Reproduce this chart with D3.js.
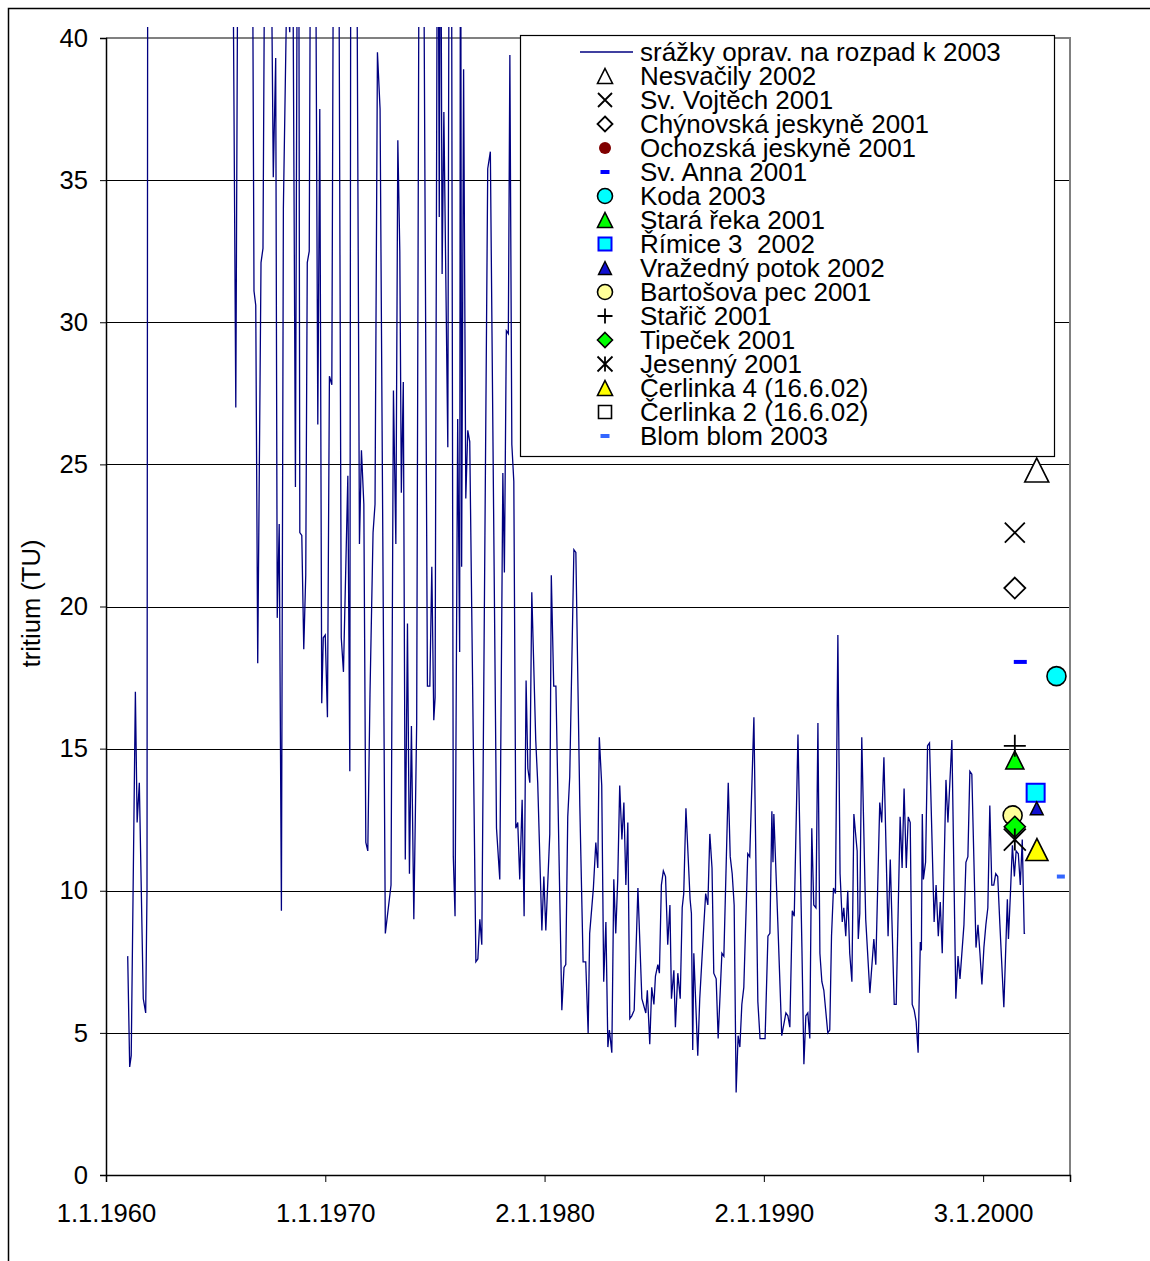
<!DOCTYPE html>
<html>
<head>
<meta charset="utf-8">
<script src="https://cdn.jsdelivr.net/npm/d3@7"></script>
<style>
  body { margin: 0; background: #fff; }
  svg { display: block; }
  text { font-family: "Liberation Sans", Arial, sans-serif; fill: #000; white-space: pre; }
</style>
</head>
<body>
<svg id="chart" width="1150" height="1261"></svg>
<script>
// Tritium in precipitation, decay-corrected to 2003: [decimal year, TU]
const precip1961_1969 = [
  [1960.99,7.7],[1961.08,3.8],[1961.15,4.2],[1961.34,17.0],[1961.42,12.4],[1961.52,13.8],[1961.70,6.2],
  [1961.81,5.7],[1961.87,10.0],[1961.95,95],[1962.3,160],[1962.8,240],[1963.3,420],[1963.8,900],
  [1964.3,650],[1964.8,380],[1965.3,200],[1965.70,55],[1965.92,27.0],[1966.10,60],[1966.40,70],
  [1966.65,50],[1966.75,31.1],[1966.83,30.6],[1966.92,18.0],[1967.07,32.1],[1967.16,32.6],[1967.35,60],
  [1967.63,35.1],[1967.74,39.3],[1967.81,19.6],[1967.90,22.9],[1968.00,9.3],[1968.09,34.0],[1968.25,42],
  [1968.38,40.2],[1968.48,50],[1968.64,24.2],[1968.77,55],[1968.84,22.6],[1968.93,22.5],[1969.02,18.5],
  [1969.11,21.1],[1969.18,32.1],[1969.27,32.5],[1969.40,60],[1969.50,55],[1969.66,26.4],[1969.75,37.5],
  [1969.84,16.6],[1969.91,18.9]
];
const precip1970_1979 = [
  [1970.00,19.0],[1970.10,16.1],[1970.19,28.1],[1970.30,27.8],[1970.42,55],[1970.55,60],[1970.73,18.9],
  [1970.83,17.7],[1971.03,24.6],[1971.12,14.2],[1971.20,70],[1971.35,60],[1971.56,22.2],[1971.65,25.5],
  [1971.76,23.6],[1971.85,11.7],[1971.94,11.4],[1972.04,16.9],[1972.18,22.6],[1972.27,23.6],[1972.38,39.5],
  [1972.50,37.5],[1972.74,8.5],[1973.00,10.2],[1973.11,27.6],[1973.22,22.2],[1973.31,36.4],[1973.40,32.5],
  [1973.47,24.0],[1973.56,27.9],[1973.65,11.1],[1973.75,19.4],[1973.84,10.6],[1973.93,15.8],[1974.04,9.0],
  [1974.17,15.9],[1974.32,55],[1974.45,50],[1974.66,17.2],[1974.77,17.2],[1974.86,21.4],[1974.95,16.0],
  [1975.01,16.8],[1975.13,50],[1975.20,33.7],[1975.26,48],[1975.33,31.7],[1975.41,37.4],[1975.59,25.6],
  [1975.68,55],[1975.75,48],[1975.84,11.2],[1975.92,9.1],[1976.04,26.6],[1976.13,18.4],[1976.17,50],
  [1976.22,21.4],[1976.31,38.9],[1976.41,23.8],[1976.50,26.2],[1976.59,25.8],[1976.87,7.5],[1976.96,7.6],
  [1977.05,9.0],[1977.14,8.1],[1977.41,35.4],[1977.53,36.0],[1977.81,12.2],[1977.96,10.4],[1978.10,24.7],
  [1978.17,21.2],[1978.26,29.7],[1978.35,29.6],[1978.42,39.4],[1978.51,25.7],[1978.60,24.4],[1978.69,12.2],
  [1978.78,12.4],[1978.87,10.4],[1978.98,13.2],[1979.07,9.1],[1979.16,17.4],[1979.24,14.3],[1979.33,13.8],
  [1979.42,20.5],[1979.60,15.3],[1979.69,13.8],[1979.88,8.6],[1979.97,10.5]
];
const precip1980_1989 = [
  [1980.06,8.6],[1980.24,12.0],[1980.31,21.1],[1980.42,17.2],[1980.52,17.2],[1980.79,5.8],[1980.89,7.3],
  [1980.97,7.4],[1981.06,12.6],[1981.15,14.0],[1981.34,22.0],[1981.43,21.9],[1981.61,13.0],[1981.76,7.5],
  [1981.88,7.5],[1981.99,5.0],[1982.06,8.5],[1982.23,10.1],[1982.34,11.7],[1982.43,10.8],[1982.50,15.4],
  [1982.61,13.7],[1982.70,6.8],[1982.80,8.9],[1982.89,4.5],[1982.96,5.1],[1983.07,4.3],[1983.16,10.4],
  [1983.25,8.5],[1983.34,10.4],[1983.43,13.7],[1983.53,11.8],[1983.62,13.1],[1983.71,10.2],[1983.80,12.4],
  [1983.89,5.5],[1983.98,5.6],[1984.09,5.8],[1984.26,10.1],[1984.44,6.2],[1984.62,5.7],[1984.69,6.5],
  [1984.80,4.6],[1984.89,6.6],[1984.99,6.0],[1985.06,7.0],[1985.17,7.4],[1985.24,7.1],[1985.33,10.2],
  [1985.42,10.7],[1985.52,10.5],[1985.62,8.1],[1985.72,9.5],[1985.79,6.2],[1985.90,7.2],[1985.97,5.2],
  [1986.08,7.1],[1986.19,6.2],[1986.28,9.4],[1986.35,9.9],[1986.45,12.9],[1986.64,9.7],[1986.70,9.2],
  [1986.76,4.4],[1986.81,7.8],[1986.99,4.2],[1987.08,6.2],[1987.26,8.7],[1987.35,9.9],[1987.45,9.5],
  [1987.54,12.0],[1987.64,10.8],[1987.72,7.1],[1987.83,6.9],[1987.92,4.8],[1988.09,7.8],[1988.18,7.7],
  [1988.38,13.8],[1988.47,11.2],[1988.56,10.6],[1988.65,9.5],[1988.74,2.9],[1988.83,4.9],[1988.91,4.5],
  [1989.00,6.0],[1989.09,6.6],[1989.27,11.3],[1989.36,11.2],[1989.55,16.1],[1989.73,6.1],[1989.83,4.8],
  [1989.94,4.8]
];
const precip1990_2001 = [
  [1990.06,4.8],[1990.19,8.4],[1990.28,8.5],[1990.37,12.8],[1990.42,11.0],[1990.46,12.7],[1990.64,8.9],
  [1990.82,4.9],[1991.01,5.7],[1991.10,5.6],[1991.19,5.2],[1991.30,9.3],[1991.39,9.1],[1991.56,15.5],
  [1991.74,8.0],[1991.83,3.9],[1991.92,5.6],[1992.01,5.7],[1992.10,4.8],[1992.19,12.2],[1992.28,9.5],
  [1992.38,9.4],[1992.47,15.9],[1992.56,7.8],[1992.65,6.8],[1992.74,6.5],[1992.92,5.0],[1993.01,5.1],
  [1993.09,8.4],[1993.18,10.1],[1993.27,9.9],[1993.38,19.0],[1993.48,10.6],[1993.58,8.9],[1993.65,9.4],
  [1993.74,8.4],[1993.83,10.0],[1993.92,7.8],[1994.02,6.8],[1994.11,12.7],[1994.20,11.9],[1994.26,11.4],
  [1994.31,8.3],[1994.38,9.2],[1994.47,15.4],[1994.65,9.0],[1994.84,6.4],[1995.02,8.3],[1995.11,7.4],
  [1995.29,13.1],[1995.38,12.4],[1995.48,14.7],[1995.67,8.4],[1995.77,11.1],[1995.95,6.0],[1996.04,6.0],
  [1996.22,12.6],[1996.31,10.8],[1996.40,13.6],[1996.50,10.8],[1996.59,12.6],[1996.68,12.4],[1996.77,6.0],
  [1996.86,5.8],[1996.95,5.4],[1997.04,4.3],[1997.14,8.2],[1997.19,7.9],[1997.23,12.7],[1997.28,10.4],
  [1997.38,11.0],[1997.47,15.1],[1997.56,15.2],[1997.77,8.9],[1997.86,10.2],[1997.96,8.4],[1998.05,9.6],
  [1998.14,7.8],[1998.31,13.9],[1998.40,12.4],[1998.58,15.3],[1998.76,6.2],[1998.86,7.7],[1998.95,6.9],
  [1999.13,8.8],[1999.22,11.0],[1999.31,11.2],[1999.40,14.2],[1999.49,14.1],[1999.68,8.0],[1999.77,8.8],
  [1999.86,7.8],[1999.95,6.7],[2000.04,8.0],[2000.13,8.8],[2000.22,9.4],[2000.31,13.0],[2000.40,10.2],
  [2000.49,10.2],[2000.58,10.6],[2000.67,10.5],[2000.77,8.8],[2000.95,5.9],[2001.11,9.7],[2001.16,8.3],
  [2001.25,9.9],[2001.34,11.6],[2001.43,10.5],[2001.51,11.4],[2001.61,11.3],[2001.70,10.2],[2001.79,11.8],
  [2001.88,8.5],[2001.92,8.5]
];

// Groundwater / spring samples
const sampleNames = [
  "Nesvačily 2002", "Sv. Vojtěch 2001", "Chýnovská jeskyně 2001", "Ochozská jeskyně 2001",
  "Sv. Anna 2001", "Koda 2003", "Stará řeka 2001", "Římice 3  2002", "Vražedný potok 2002",
  "Bartošova pec 2001", "Stařič 2001", "Tipeček 2001", "Jesenný 2001", "Čerlinka 4 (16.6.02)",
  "Čerlinka 2 (16.6.02)", "Blom blom 2003"
];
const sampleDates = [2002.45, 2001.45, 2001.45, null, 2001.70, 2003.35, 2001.45, 2002.40, 2002.45,
  2001.35, 2001.45, 2001.45, 2001.45, 2002.46, null, 2003.55];
const sampleTU = [24.8, 22.6, 20.65, null, 18.05, 17.55, 14.6, 13.45, 12.9,
  12.65, 15.1, 12.25, 11.8, 11.45, null, 10.5];

const lineLabel = "srážky oprav. na rozpad k 2003";
const xTickLabels = ["1.1.1960", "1.1.1970", "2.1.1980", "2.1.1990", "3.1.2000"];
const yTicks = [0, 5, 10, 15, 20, 25, 30, 35, 40];
const yTitle = "tritium (TU)";

// Marker appearance per sample (plot size, legend size)
const markerStyles = [
  { shape: "triangle", fill: "#fff", stroke: "#000", sw: 1.6, size: 24, lsize: 15 },
  { shape: "x", fill: "none", stroke: "#000", sw: 1.8, size: 20, lsize: 14 },
  { shape: "diamond", fill: "#fff", stroke: "#000", sw: 1.8, size: 21, lsize: 15 },
  { shape: "circle", fill: "#800000", stroke: "none", sw: 0, size: 12, lsize: 12 },
  { shape: "dash", fill: "#0000ff", stroke: "none", sw: 0, size: 13, lsize: 9 },
  { shape: "circle", fill: "#00ffff", stroke: "#000", sw: 1.6, size: 19, lsize: 15 },
  { shape: "triangle", fill: "#00ff00", stroke: "#000", sw: 1.6, size: 18, lsize: 15 },
  { shape: "square", fill: "#00ffff", stroke: "#0000ff", sw: 2, size: 18, lsize: 13 },
  { shape: "triangle", fill: "#1010d0", stroke: "#000", sw: 1.4, size: 13, lsize: 13 },
  { shape: "circle", fill: "#ffff99", stroke: "#000", sw: 1.6, size: 19, lsize: 15 },
  { shape: "plus", fill: "none", stroke: "#000", sw: 1.8, size: 22, lsize: 15 },
  { shape: "diamond", fill: "#00ff00", stroke: "#000", sw: 1.6, size: 21, lsize: 15 },
  { shape: "asterisk", fill: "none", stroke: "#000", sw: 1.8, size: 22, lsize: 15 },
  { shape: "triangle", fill: "#ffff00", stroke: "#000", sw: 1.6, size: 22, lsize: 15 },
  { shape: "square", fill: "#fff", stroke: "#000", sw: 1.6, size: 18, lsize: 13 },
  { shape: "dash", fill: "#3366ff", stroke: "none", sw: 0, size: 8, lsize: 9 }
];

const plot = { left: 106, right: 1070, top: 38, bottom: 1175 };
const FONT = 25.6;
const LEGEND_FONT = 26;

const svg = d3.select("#chart");

const t0 = new Date(1960, 0, 1);
const yearToDate = yv => new Date(t0.getTime() + (yv - 1960) * 365.25 * 864e5);

const x = d3.scaleTime()
  .domain([t0, new Date(2003, 11, 20)])
  .range([plot.left, plot.right]);
const y = d3.scaleLinear().domain([0, 40]).range([plot.bottom, plot.top]);

// outer chart frame
svg.append("rect").attr("x", 8.5).attr("y", 8.5).attr("width", 1160).attr("height", 1260)
  .attr("fill", "none").attr("stroke", "#000").attr("stroke-width", 1.5);

// horizontal gridlines
svg.append("g").selectAll("line").data(yTicks.filter(v => v > 0 && v < 40)).join("line")
  .attr("x1", plot.left).attr("x2", plot.right)
  .attr("y1", d => Math.round(y(d)) + 0.5).attr("y2", d => Math.round(y(d)) + 0.5)
  .attr("stroke", "#000").attr("stroke-width", 1);

// plot area border (top and right)
svg.append("path")
  .attr("d", `M${plot.left},${y(40)}H${plot.right}V${plot.bottom}`)
  .attr("fill", "none").attr("stroke", "#808080").attr("stroke-width", 2);

// precipitation line, allowed to run slightly above the plot top
svg.append("clipPath").attr("id", "lineClip").append("rect")
  .attr("x", plot.left).attr("y", 27).attr("width", plot.right - plot.left).attr("height", plot.bottom - 27);

const series = precip1961_1969.concat(precip1970_1979, precip1980_1989, precip1990_2001);
const line = d3.line().x(d => x(yearToDate(d[0]))).y(d => y(d[1]));
svg.append("path")
  .datum(series)
  .attr("clip-path", "url(#lineClip)")
  .attr("d", line)
  .attr("fill", "none").attr("stroke", "#000080").attr("stroke-width", 1.3)
  .attr("stroke-linejoin", "miter");

// axes
const xTickDates = xTickLabels.map(s => d3.timeParse("%d.%m.%Y")(s));
const xAxis = d3.axisBottom(x).tickValues(xTickDates)
  .tickFormat(d3.timeFormat("%-d.%-m.%Y")).tickSize(7).tickPadding(22);
const gx = svg.append("g").attr("transform", `translate(0,${plot.bottom})`).call(xAxis);
gx.select(".domain").attr("stroke", "#000").attr("stroke-width", 1.5);
gx.selectAll(".tick line").attr("stroke", "#000");
gx.selectAll("text").attr("font-size", FONT).attr("font-family", "Liberation Sans, Arial, sans-serif").attr("fill", "#000");

const yAxis = d3.axisLeft(y).tickValues(yTicks).tickFormat(d3.format("d")).tickSize(6).tickPadding(12);
const gy = svg.append("g").attr("transform", `translate(${plot.left},0)`).call(yAxis);
gy.select(".domain").attr("stroke", "#000").attr("stroke-width", 1.5);
gy.selectAll(".tick line").attr("stroke", "#000");
gy.selectAll("text").attr("font-size", FONT).attr("font-family", "Liberation Sans, Arial, sans-serif").attr("fill", "#000");

svg.append("text")
  .attr("transform", `translate(40,${y(20) - 3}) rotate(-90)`)
  .attr("text-anchor", "middle").attr("font-size", FONT)
  .text(yTitle);

// marker shapes centred on (0,0)
function markerPath(shape, s) {
  const h = s / 2;
  switch (shape) {
    case "triangle": return `M0,${-h}L${h},${h}L${-h},${h}Z`;
    case "diamond": return `M0,${-h}L${h},0L0,${h}L${-h},0Z`;
    case "circle": return `M${h},0A${h},${h} 0 1 1 ${-h},0A${h},${h} 0 1 1 ${h},0Z`;
    case "square": return `M${-h},${-h}H${h}V${h}H${-h}Z`;
    case "x": return `M${-h},${-h}L${h},${h}M${h},${-h}L${-h},${h}`;
    case "plus": return `M${-h},0H${h}M0,${-h}V${h}`;
    case "asterisk": return `M${-h},${-h}L${h},${h}M${h},${-h}L${-h},${h}M0,${-h}V${h}`;
    case "dash": return `M${-h},-2H${h}V2H${-h}Z`;
  }
}
function drawMarker(g, st, size) {
  g.append("path").attr("d", markerPath(st.shape, size))
    .attr("fill", st.fill).attr("stroke", st.stroke).attr("stroke-width", st.sw);
}

// sample markers
const samples = sampleNames.map((n, i) => ({ name: n, date: sampleDates[i], tu: sampleTU[i], st: markerStyles[i] }))
  .filter(d => d.date != null && d.tu != null);
samples.forEach(d => {
  const g = svg.append("g").attr("transform", `translate(${x(yearToDate(d.date))},${y(d.tu)})`);
  drawMarker(g, d.st, d.st.size);
});

// legend
const lg = svg.append("g");
lg.append("rect").attr("x", 520.5).attr("y", 35.5).attr("width", 534).attr("height", 421)
  .attr("fill", "#fff").attr("stroke", "#000").attr("stroke-width", 1.2);
const rowY = i => 52 + 24 * i;
const symX = 605, textX = 640;
lg.append("line").attr("x1", 580).attr("x2", 633).attr("y1", rowY(0)).attr("y2", rowY(0))
  .attr("stroke", "#000080").attr("stroke-width", 1.3);
lg.append("text").attr("x", textX).attr("y", rowY(0) + 9).attr("font-size", LEGEND_FONT).text(lineLabel);
sampleNames.forEach((n, i) => {
  const cy = rowY(i + 1);
  const g = lg.append("g").attr("transform", `translate(${symX},${cy})`);
  drawMarker(g, markerStyles[i], markerStyles[i].lsize);
  lg.append("text").attr("x", textX).attr("y", cy + 9).attr("font-size", LEGEND_FONT).text(n);
});
</script>
</body>
</html>
